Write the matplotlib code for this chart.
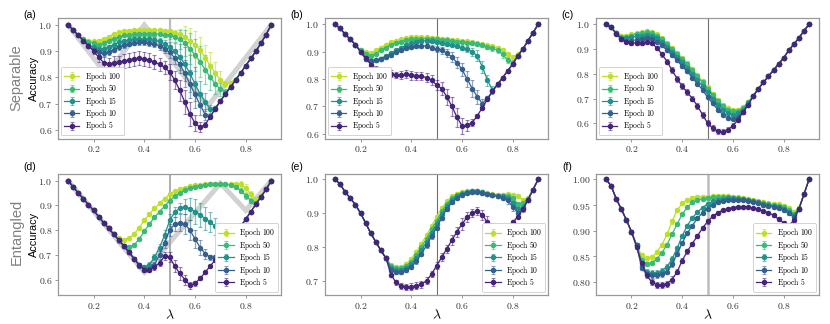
import numpy as np
import matplotlib
matplotlib.use('Agg')
import matplotlib.pyplot as plt
from matplotlib.ticker import FuncFormatter, MultipleLocator

plt.rcParams['mathtext.fontset'] = 'cm'
plt.rcParams['font.family'] = ['Liberation Sans', 'DejaVu Sans']

lam = np.round(np.arange(0.10, 0.9001, 0.02), 2)
epochs = ['Epoch 100', 'Epoch 50', 'Epoch 15', 'Epoch 10', 'Epoch 5']
colors = ['#bddf26', '#3aba76', '#21918c', '#35608d', '#46247a']

# ---------------- (a) Separable ----------------
a_100 = [1.0,0.98,0.96,0.945,0.94, 0.938,0.94,0.945,0.955,0.965, 0.972,0.976,0.978,0.979,0.98, 0.98,0.98,0.98,0.98,0.978,
         0.975,0.97,0.965,0.955,0.94, 0.925,0.905,0.875,0.845,0.815, 0.79,0.775,0.78,0.795,0.817, 0.845,0.872,0.90,0.93,0.963, 1.0]
a_50 = [1.0,0.98,0.96,0.945,0.935, 0.93,0.925,0.93,0.94,0.948, 0.955,0.96,0.962,0.964,0.965, 0.965,0.965,0.965,0.965,0.963,
        0.96,0.955,0.945,0.93,0.91, 0.885,0.86,0.83,0.80,0.775, 0.755,0.745,0.763,0.79,0.817, 0.845,0.872,0.90,0.93,0.963, 1.0]
a_15 = [1.0,0.98,0.96,0.94,0.925, 0.915,0.91,0.91,0.915,0.925, 0.933,0.938,0.942,0.945,0.946, 0.946,0.945,0.942,0.937,0.928,
        0.915,0.90,0.878,0.85,0.815, 0.775,0.737,0.706,0.68,0.685, 0.71,0.737,0.763,0.79,0.817, 0.845,0.872,0.90,0.93,0.963, 1.0]
a_10 = [1.0,0.98,0.96,0.94,0.92, 0.905,0.895,0.893,0.897,0.905, 0.915,0.922,0.928,0.932,0.934, 0.934,0.932,0.928,0.92,0.91,
        0.895,0.875,0.85,0.815,0.775, 0.735,0.695,0.658,0.652,0.68, 0.71,0.737,0.763,0.79,0.817, 0.845,0.872,0.90,0.93,0.963, 1.0]
a_5 = [1.0,0.98,0.96,0.94,0.92, 0.90,0.877,0.856,0.852,0.855, 0.858,0.862,0.867,0.871,0.873, 0.87,0.865,0.858,0.85,0.838,
       0.82,0.79,0.75,0.705,0.66, 0.625,0.61,0.62,0.65,0.68, 0.71,0.737,0.763,0.79,0.817, 0.845,0.872,0.90,0.93,0.963, 1.0]
a_err100 = [0,0.003,0.003,0.004,0.005, 0.005,0.005,0.005,0.005,0.005, 0.005,0.005,0.005,0.005,0.005, 0.005,0.005,0.005,0.005,0.005,
            0.008,0.012,0.02,0.04,0.05, 0.05,0.05,0.05,0.05,0.045, 0.035,0.01,0.005,0.004,0.003, 0.003,0.003,0.003,0.003,0.003, 0]
a_err50 = [0,0.003,0.003,0.004,0.006, 0.007,0.007,0.007,0.007,0.007, 0.007,0.007,0.007,0.007,0.007, 0.007,0.007,0.007,0.008,0.01,
           0.012,0.02,0.035,0.05,0.06, 0.06,0.06,0.055,0.05,0.04, 0.025,0.01,0.005,0.004,0.003, 0.003,0.003,0.003,0.003,0.003, 0]
a_err15 = [0,0.003,0.003,0.004,0.006, 0.008,0.01,0.01,0.01,0.01, 0.01,0.01,0.01,0.01,0.01, 0.01,0.01,0.012,0.013,0.015,
           0.02,0.03,0.05,0.065,0.07, 0.065,0.05,0.035,0.015,0.006, 0.004,0.003,0.003,0.003,0.003, 0.003,0.003,0.003,0.003,0.003, 0]
a_err10 = [0,0.003,0.003,0.004,0.006, 0.008,0.01,0.01,0.01,0.01, 0.01,0.01,0.01,0.01,0.01, 0.01,0.012,0.013,0.015,0.017,
           0.02,0.025,0.035,0.05,0.055, 0.05,0.04,0.02,0.008,0.004, 0.003,0.003,0.003,0.003,0.003, 0.003,0.003,0.003,0.003,0.003, 0]
a_err5 = [0,0.003,0.003,0.005,0.008, 0.012,0.018,0.02,0.022,0.025, 0.025,0.027,0.027,0.027,0.027, 0.027,0.027,0.027,0.025,0.025,
          0.03,0.035,0.04,0.045,0.045, 0.03,0.02,0.01,0.006,0.004, 0.003,0.003,0.003,0.003,0.003, 0.003,0.003,0.003,0.003,0.003, 0]
a_ref_x = [0.10, 0.25, 0.40, 0.65, 0.90]
a_ref_y = [1.00, 0.81, 1.00, 0.69, 1.00]

# ---------------- (b) Separable ----------------
b_100 = [1.0,0.985,0.963,0.945,0.925, 0.905,0.897,0.895,0.905,0.915, 0.925,0.935,0.94,0.945,0.95, 0.953,0.953,0.953,0.952,0.951,
         0.95,0.948,0.946,0.944,0.942, 0.94,0.938,0.935,0.932,0.928, 0.924,0.92,0.914,0.905,0.892, 0.88,0.89,0.91,0.94,0.97, 1.0]
b_50 = [1.0,0.985,0.963,0.945,0.925, 0.905,0.89,0.885,0.893,0.905, 0.915,0.925,0.932,0.937,0.942, 0.945,0.947,0.948,0.948,0.947,
        0.946,0.944,0.942,0.94,0.937, 0.935,0.932,0.93,0.927,0.923, 0.918,0.912,0.905,0.89,0.87, 0.86,0.885,0.91,0.94,0.97, 1.0]
b_15 = [1.0,0.985,0.963,0.945,0.925, 0.90,0.872,0.865,0.868,0.875, 0.885,0.895,0.905,0.915,0.925, 0.932,0.937,0.94,0.94,0.938,
        0.935,0.932,0.928,0.925,0.92, 0.915,0.91,0.90,0.885,0.845, 0.795,0.76,0.78,0.805,0.83, 0.855,0.885,0.91,0.94,0.97, 1.0]
b_10 = [1.0,0.985,0.963,0.945,0.925, 0.90,0.875,0.865,0.868,0.873, 0.88,0.888,0.897,0.905,0.912, 0.918,0.922,0.922,0.92,0.915,
        0.91,0.905,0.895,0.88,0.86, 0.835,0.80,0.765,0.735,0.71, 0.73,0.755,0.78,0.805,0.83, 0.855,0.885,0.91,0.94,0.97, 1.0]
b_5 = [1.0,0.985,0.963,0.945,0.925, 0.90,0.877,0.853,0.837,0.83, 0.825,0.82,0.815,0.815,0.817, 0.813,0.81,0.81,0.805,0.795,
       0.778,0.765,0.735,0.70,0.66, 0.628,0.63,0.64,0.665,0.695, 0.725,0.755,0.78,0.805,0.83, 0.855,0.885,0.91,0.94,0.97, 1.0]
b_err100 = [0,0.003,0.003,0.003,0.004, 0.005,0.006,0.006,0.005,0.005, 0.004,0.004,0.004,0.004,0.004, 0.004,0.004,0.004,0.004,0.004,
            0.004,0.004,0.004,0.004,0.004, 0.004,0.004,0.004,0.004,0.005, 0.005,0.005,0.006,0.007,0.008, 0.008,0.005,0.004,0.003,0.003, 0]
b_err50 = [0,0.003,0.003,0.003,0.004, 0.005,0.006,0.006,0.005,0.005, 0.005,0.005,0.005,0.005,0.005, 0.005,0.005,0.005,0.005,0.005,
           0.005,0.005,0.005,0.005,0.005, 0.005,0.005,0.005,0.006,0.006, 0.007,0.008,0.01,0.012,0.012, 0.01,0.006,0.004,0.003,0.003, 0]
b_err15 = [0,0.003,0.003,0.003,0.004, 0.005,0.007,0.007,0.006,0.006, 0.006,0.006,0.006,0.006,0.006, 0.006,0.006,0.006,0.006,0.006,
           0.006,0.006,0.006,0.006,0.007, 0.008,0.01,0.015,0.02,0.022, 0.02,0.015,0.008,0.005,0.004, 0.004,0.003,0.003,0.003,0.003, 0]
b_err10 = [0,0.003,0.003,0.003,0.004, 0.005,0.008,0.008,0.007,0.007, 0.007,0.007,0.007,0.007,0.007, 0.007,0.007,0.008,0.008,0.009,
           0.01,0.012,0.015,0.018,0.02, 0.025,0.03,0.03,0.025,0.015, 0.008,0.005,0.004,0.004,0.004, 0.004,0.003,0.003,0.003,0.003, 0]
b_err5 = [0,0.003,0.003,0.003,0.004, 0.006,0.008,0.01,0.01,0.01, 0.012,0.012,0.012,0.014,0.015, 0.015,0.015,0.015,0.016,0.018,
          0.02,0.025,0.03,0.035,0.035, 0.03,0.02,0.012,0.008,0.006, 0.005,0.004,0.004,0.004,0.004, 0.004,0.003,0.003,0.003,0.003, 0]

# ---------------- (c) Separable ----------------
c_100 = [1.0,0.988,0.965,0.952,0.955, 0.96,0.965,0.97,0.972,0.97, 0.96,0.945,0.925,0.905,0.885, 0.865,0.845,0.82,0.795,0.77,
         0.745,0.72,0.695,0.675,0.66, 0.655,0.655,0.665,0.685,0.71, 0.74,0.765,0.79,0.815,0.84, 0.865,0.895,0.92,0.945,0.975, 1.0]
c_50 = [1.0,0.988,0.965,0.948,0.95, 0.955,0.962,0.966,0.968,0.965, 0.955,0.94,0.92,0.90,0.88, 0.86,0.838,0.815,0.79,0.765,
        0.74,0.715,0.69,0.67,0.655, 0.648,0.65,0.662,0.685,0.71, 0.74,0.765,0.79,0.815,0.84, 0.865,0.895,0.92,0.945,0.975, 1.0]
c_15 = [1.0,0.988,0.965,0.945,0.945, 0.95,0.952,0.955,0.957,0.955, 0.945,0.93,0.91,0.89,0.87, 0.85,0.825,0.80,0.775,0.75,
        0.725,0.70,0.675,0.655,0.64, 0.635,0.64,0.655,0.68,0.71, 0.74,0.765,0.79,0.815,0.84, 0.865,0.895,0.92,0.945,0.975, 1.0]
c_10 = [1.0,0.988,0.965,0.94,0.935, 0.935,0.938,0.942,0.945,0.942, 0.93,0.915,0.895,0.875,0.855, 0.83,0.81,0.785,0.76,0.735,
        0.705,0.68,0.655,0.635,0.62, 0.618,0.625,0.645,0.675,0.71, 0.74,0.765,0.79,0.815,0.84, 0.865,0.895,0.92,0.945,0.975, 1.0]
c_5 = [1.0,0.988,0.963,0.94,0.93, 0.925,0.925,0.926,0.928,0.925, 0.905,0.88,0.85,0.815,0.78, 0.75,0.725,0.70,0.67,0.635,
       0.60,0.58,0.567,0.565,0.573, 0.59,0.615,0.645,0.675,0.71, 0.74,0.765,0.79,0.815,0.84, 0.865,0.895,0.92,0.945,0.975, 1.0]
c_err100 = [0,0.003,0.004,0.005,0.005, 0.005,0.005,0.005,0.005,0.005, 0.006,0.006,0.006,0.006,0.006, 0.006,0.006,0.006,0.006,0.006,
            0.006,0.006,0.006,0.006,0.006, 0.006,0.006,0.006,0.005,0.004, 0.004,0.004,0.003,0.003,0.003, 0.003,0.003,0.003,0.003,0.003, 0]
c_err50 = c_err100
c_err15 = [0,0.003,0.004,0.005,0.006, 0.006,0.006,0.006,0.006,0.006, 0.007,0.007,0.007,0.007,0.007, 0.007,0.007,0.007,0.007,0.007,
           0.007,0.007,0.007,0.007,0.007, 0.007,0.007,0.006,0.005,0.004, 0.004,0.004,0.003,0.003,0.003, 0.003,0.003,0.003,0.003,0.003, 0]
c_err10 = c_err15
c_err5 = [0,0.003,0.004,0.006,0.007, 0.008,0.008,0.008,0.008,0.008, 0.009,0.01,0.011,0.012,0.012, 0.012,0.012,0.012,0.012,0.012,
          0.012,0.011,0.01,0.01,0.01, 0.01,0.009,0.008,0.006,0.005, 0.004,0.004,0.003,0.003,0.003, 0.003,0.003,0.003,0.003,0.003, 0]

# ---------------- (d) Entangled ----------------
d_100 = [1.0,0.975,0.95,0.927,0.903, 0.88,0.855,0.83,0.807,0.785, 0.767,0.762,0.768,0.785,0.81, 0.84,0.865,0.888,0.908,0.928,
         0.945,0.957,0.966,0.972,0.977, 0.981,0.984,0.986,0.987,0.988, 0.988,0.987,0.986,0.988,0.985, 0.97,0.945,0.925,0.94,0.967, 1.0]
d_50 = [1.0,0.975,0.95,0.927,0.903, 0.88,0.855,0.83,0.807,0.783, 0.757,0.737,0.733,0.74,0.765, 0.795,0.825,0.852,0.875,0.897,
        0.92,0.937,0.95,0.962,0.97, 0.976,0.98,0.984,0.986,0.987, 0.987,0.985,0.982,0.975,0.96, 0.94,0.92,0.91,0.935,0.965, 1.0]
d_15 = [1.0,0.975,0.95,0.927,0.903, 0.88,0.855,0.83,0.807,0.783, 0.76,0.735,0.71,0.685,0.66, 0.652,0.66,0.69,0.73,0.78,
        0.84,0.872,0.89,0.895,0.887, 0.875,0.862,0.847,0.832,0.815, 0.797,0.78,0.772,0.79,0.815, 0.845,0.875,0.905,0.935,0.965, 1.0]
d_10 = [1.0,0.975,0.95,0.927,0.903, 0.88,0.855,0.83,0.807,0.783, 0.76,0.735,0.71,0.685,0.655, 0.645,0.645,0.66,0.70,0.75,
        0.80,0.825,0.83,0.825,0.80, 0.765,0.73,0.705,0.69,0.69, 0.71,0.737,0.765,0.79,0.815, 0.845,0.875,0.905,0.935,0.965, 1.0]
d_5 = [1.0,0.975,0.95,0.927,0.903, 0.88,0.855,0.83,0.807,0.783, 0.76,0.735,0.71,0.685,0.66, 0.64,0.64,0.65,0.668,0.695,
       0.69,0.655,0.625,0.60,0.577, 0.585,0.605,0.63,0.655,0.68, 0.71,0.737,0.765,0.79,0.815, 0.845,0.875,0.905,0.935,0.965, 1.0]
d_err100 = [0,0.003,0.003,0.003,0.003, 0.003,0.003,0.003,0.004,0.005, 0.006,0.006,0.006,0.006,0.006, 0.006,0.006,0.006,0.005,0.005,
            0.005,0.004,0.004,0.004,0.004, 0.004,0.004,0.004,0.004,0.004, 0.004,0.004,0.005,0.008,0.012, 0.015,0.012,0.01,0.006,0.004, 0]
d_err50 = [0,0.003,0.003,0.003,0.003, 0.003,0.003,0.003,0.004,0.005, 0.006,0.007,0.007,0.007,0.007, 0.007,0.007,0.007,0.006,0.006,
           0.006,0.005,0.005,0.005,0.005, 0.005,0.005,0.005,0.005,0.005, 0.005,0.005,0.006,0.008,0.01, 0.012,0.012,0.01,0.006,0.004, 0]
d_err15 = [0,0.003,0.003,0.003,0.003, 0.003,0.003,0.003,0.004,0.004, 0.004,0.005,0.005,0.006,0.007, 0.008,0.01,0.012,0.015,0.02,
           0.025,0.02,0.02,0.03,0.045, 0.05,0.05,0.045,0.04,0.035, 0.03,0.02,0.012,0.006,0.004, 0.004,0.004,0.003,0.003,0.003, 0]
d_err10 = [0,0.003,0.003,0.003,0.003, 0.003,0.003,0.003,0.004,0.004, 0.004,0.005,0.005,0.006,0.007, 0.008,0.008,0.01,0.015,0.02,
           0.025,0.03,0.035,0.04,0.04, 0.035,0.03,0.02,0.01,0.008, 0.005,0.004,0.004,0.004,0.004, 0.004,0.004,0.003,0.003,0.003, 0]
d_err5 = [0,0.003,0.003,0.003,0.003, 0.003,0.003,0.003,0.004,0.004, 0.004,0.005,0.005,0.006,0.007, 0.008,0.008,0.01,0.012,0.015,
          0.02,0.025,0.025,0.02,0.015, 0.01,0.008,0.006,0.005,0.005, 0.004,0.004,0.004,0.004,0.004, 0.004,0.004,0.003,0.003,0.003, 0]
d_ref_x = [0.10, 0.40, 0.70, 0.80, 0.90]
d_ref_y = [1.00, 0.63, 0.99, 0.88, 1.00]

# ---------------- (e) Entangled ----------------
e_100 = [1.0,0.985,0.962,0.944,0.925, 0.90,0.871,0.841,0.815,0.79, 0.767,0.748,0.742,0.742,0.75, 0.765,0.785,0.81,0.835,0.862,
         0.89,0.915,0.935,0.95,0.958, 0.963,0.966,0.967,0.966,0.963, 0.96,0.957,0.955,0.955,0.956, 0.955,0.95,0.94,0.945,0.97, 1.0]
e_50 = [1.0,0.985,0.962,0.944,0.925, 0.90,0.871,0.841,0.815,0.79, 0.767,0.743,0.737,0.737,0.745, 0.757,0.777,0.80,0.825,0.852,
        0.878,0.905,0.927,0.945,0.955, 0.96,0.964,0.966,0.965,0.962, 0.958,0.955,0.952,0.952,0.952, 0.945,0.928,0.93,0.942,0.97, 1.0]
e_15 = [1.0,0.985,0.962,0.944,0.925, 0.90,0.871,0.841,0.815,0.79, 0.767,0.738,0.732,0.732,0.738, 0.75,0.768,0.79,0.815,0.842,
        0.868,0.897,0.92,0.94,0.95, 0.958,0.962,0.965,0.965,0.962, 0.958,0.955,0.952,0.95,0.945, 0.93,0.912,0.918,0.94,0.97, 1.0]
e_10 = [1.0,0.985,0.962,0.944,0.925, 0.90,0.871,0.841,0.815,0.79, 0.767,0.733,0.727,0.727,0.732, 0.742,0.758,0.78,0.805,0.832,
        0.857,0.887,0.912,0.932,0.945, 0.955,0.96,0.963,0.963,0.96, 0.956,0.953,0.95,0.946,0.938, 0.918,0.902,0.912,0.938,0.97, 1.0]
e_5 = [1.0,0.985,0.962,0.944,0.925, 0.90,0.871,0.841,0.815,0.79, 0.767,0.718,0.695,0.685,0.683, 0.683,0.685,0.69,0.70,0.72,
       0.745,0.77,0.795,0.82,0.845, 0.868,0.888,0.90,0.907,0.895, 0.873,0.848,0.83,0.83,0.845, 0.873,0.89,0.912,0.94,0.97, 1.0]
e_err100 = [0,0.003,0.003,0.003,0.003, 0.003,0.003,0.003,0.004,0.004, 0.005,0.005,0.005,0.005,0.005, 0.005,0.005,0.005,0.005,0.005,
            0.005,0.005,0.004,0.004,0.004, 0.004,0.004,0.004,0.004,0.004, 0.004,0.004,0.004,0.004,0.005, 0.006,0.006,0.005,0.004,0.003, 0]
e_err50 = e_err100
e_err15 = [0,0.003,0.003,0.003,0.003, 0.003,0.003,0.003,0.004,0.004, 0.005,0.006,0.006,0.006,0.006, 0.006,0.006,0.006,0.006,0.006,
           0.006,0.006,0.005,0.005,0.005, 0.005,0.005,0.005,0.005,0.005, 0.005,0.005,0.005,0.005,0.006, 0.008,0.008,0.006,0.004,0.003, 0]
e_err10 = [0,0.003,0.003,0.003,0.003, 0.003,0.003,0.003,0.004,0.004, 0.005,0.007,0.007,0.007,0.007, 0.007,0.007,0.007,0.007,0.007,
           0.007,0.007,0.006,0.006,0.006, 0.006,0.005,0.005,0.005,0.005, 0.005,0.005,0.006,0.008,0.01, 0.012,0.01,0.008,0.005,0.003, 0]
e_err5 = [0,0.003,0.003,0.003,0.003, 0.003,0.003,0.003,0.004,0.005, 0.006,0.008,0.008,0.008,0.009, 0.01,0.01,0.01,0.01,0.01,
          0.01,0.012,0.012,0.015,0.015, 0.018,0.015,0.012,0.012,0.015, 0.02,0.022,0.018,0.012,0.008, 0.006,0.005,0.005,0.004,0.003, 0]

# ---------------- (f) Entangled ----------------
f_100 = [1.0,0.987,0.962,0.942,0.921, 0.898,0.872,0.852,0.846,0.848, 0.858,0.873,0.893,0.918,0.94, 0.953,0.96,0.964,0.966,0.966,
         0.966,0.967,0.968,0.968,0.967, 0.966,0.965,0.964,0.962,0.96, 0.958,0.956,0.953,0.952,0.951, 0.949,0.944,0.936,0.945,0.971, 1.0]
f_50 = [1.0,0.987,0.962,0.942,0.921, 0.898,0.872,0.843,0.836,0.837, 0.845,0.857,0.873,0.893,0.913, 0.932,0.946,0.955,0.96,0.962,
        0.963,0.965,0.966,0.966,0.965, 0.964,0.963,0.962,0.96,0.958, 0.956,0.953,0.951,0.95,0.948, 0.946,0.94,0.932,0.943,0.971, 1.0]
f_15 = [1.0,0.987,0.962,0.942,0.921, 0.898,0.872,0.832,0.82,0.818, 0.818,0.822,0.83,0.845,0.866, 0.89,0.91,0.925,0.936,0.945,
        0.952,0.957,0.96,0.962,0.963, 0.963,0.962,0.961,0.96,0.958, 0.955,0.952,0.95,0.948,0.946, 0.943,0.937,0.93,0.943,0.971, 1.0]
f_10 = [1.0,0.987,0.962,0.942,0.921, 0.898,0.872,0.828,0.815,0.814, 0.814,0.815,0.82,0.835,0.855, 0.876,0.895,0.91,0.924,0.935,
        0.943,0.95,0.955,0.958,0.96, 0.96,0.96,0.96,0.958,0.956, 0.953,0.95,0.948,0.946,0.944, 0.94,0.934,0.926,0.942,0.971, 1.0]
f_5 = [1.0,0.987,0.962,0.942,0.921, 0.898,0.868,0.838,0.813,0.80, 0.795,0.795,0.797,0.805,0.82, 0.842,0.86,0.875,0.89,0.905,
       0.918,0.928,0.935,0.94,0.943, 0.945,0.946,0.946,0.946,0.944, 0.942,0.938,0.935,0.93,0.922, 0.915,0.91,0.92,0.942,0.971, 1.0]
f_err100 = [0,0.002,0.002,0.002,0.002, 0.003,0.003,0.004,0.004,0.004, 0.004,0.004,0.004,0.004,0.004, 0.003,0.003,0.003,0.003,0.003,
            0.003,0.003,0.003,0.003,0.003, 0.003,0.003,0.003,0.003,0.003, 0.003,0.003,0.003,0.003,0.003, 0.003,0.003,0.004,0.003,0.002, 0]
f_err50 = f_err100
f_err15 = [0,0.002,0.002,0.002,0.002, 0.003,0.004,0.005,0.005,0.005, 0.005,0.005,0.005,0.005,0.005, 0.004,0.004,0.004,0.003,0.003,
           0.003,0.003,0.003,0.003,0.003, 0.003,0.003,0.003,0.003,0.003, 0.003,0.003,0.003,0.003,0.003, 0.003,0.003,0.004,0.003,0.002, 0]
f_err10 = f_err15
f_err5 = [0,0.002,0.002,0.002,0.002, 0.003,0.004,0.005,0.005,0.006, 0.006,0.006,0.006,0.006,0.005, 0.005,0.005,0.004,0.004,0.004,
          0.004,0.003,0.003,0.003,0.003, 0.003,0.003,0.003,0.003,0.003, 0.003,0.003,0.003,0.003,0.004, 0.004,0.004,0.004,0.003,0.002, 0]

panels = [
    dict(tag='(a)', series=[a_100, a_50, a_15, a_10, a_5], errs=[a_err100, a_err50, a_err15, a_err10, a_err5],
         ylim=(0.567, 1.027), ystep=0.1, fmt='%.1f', ref=(a_ref_x, a_ref_y), vline=('#bdbdbd', 1.6), loc='lower left'),
    dict(tag='(b)', series=[b_100, b_50, b_15, b_10, b_5], errs=[b_err100, b_err50, b_err15, b_err10, b_err5],
         ylim=(0.582, 1.024), ystep=0.1, fmt='%.1f', ref=None, vline=('#707070', 0.8), loc='lower left'),
    dict(tag='(c)', series=[c_100, c_50, c_15, c_10, c_5], errs=[c_err100, c_err50, c_err15, c_err10, c_err5],
         ylim=(0.538, 1.027), ystep=0.1, fmt='%.1f', ref=None, vline=('#707070', 0.8), loc='lower left'),
    dict(tag='(d)', series=[d_100, d_50, d_15, d_10, d_5], errs=[d_err100, d_err50, d_err15, d_err10, d_err5],
         ylim=(0.538, 1.026), ystep=0.1, fmt='%.1f', ref=(d_ref_x, d_ref_y), vline=('#a0a0a0', 1.2), loc='lower right'),
    dict(tag='(e)', series=[e_100, e_50, e_15, e_10, e_5], errs=[e_err100, e_err50, e_err15, e_err10, e_err5],
         ylim=(0.658, 1.015), ystep=0.1, fmt='%.1f', ref=None, vline=('#707070', 0.8), loc='lower right'),
    dict(tag='(f)', series=[f_100, f_50, f_15, f_10, f_5], errs=[f_err100, f_err50, f_err15, f_err10, f_err5],
         ylim=(0.775, 1.0097), ystep=0.05, fmt='%.2f', ref=None, vline=('#bdbdbd', 1.8), loc='lower right'),
]

fig = plt.figure(figsize=(8.30, 3.24), dpi=100)
lefts = [0.0699, 0.3916, 0.718]
bottoms = [0.5725, 0.0895]
W, H = 0.269, 0.3725

for i, p in enumerate(panels):
    r, c = divmod(i, 3)
    ax = fig.add_axes([lefts[c], bottoms[r], W, H])
    if p['ref'] is not None:
        ax.plot(p['ref'][0], p['ref'][1], color='#d2d2d2', lw=3.6, zorder=1, solid_joinstyle='miter')
    ax.axvline(0.5, color=p['vline'][0], lw=p['vline'][1], zorder=1.5)
    for lab, col, y, e in zip(epochs, colors, p['series'], p['errs']):
        eb = ax.errorbar(lam, y, yerr=e, color=col, marker='o', ms=2.9, lw=0.9,
                         elinewidth=0.9, capsize=1.6, capthick=0.8,
                         label=r'$\mathrm{%s}$' % lab.replace(' ', r'\ '), zorder=3)
        for cap in eb[1]:
            cap.set_alpha(0.55)
        for lc in eb[2]:
            lc.set_alpha(0.55)
    ax.set_xlim(0.06, 0.94)
    ax.set_ylim(*p['ylim'])
    ax.xaxis.set_major_locator(MultipleLocator(0.2))
    ax.yaxis.set_major_locator(MultipleLocator(p['ystep']))
    fmt = p['fmt']
    ax.xaxis.set_major_formatter(FuncFormatter(lambda v, pos: r'$%.1f$' % v))
    ax.yaxis.set_major_formatter(FuncFormatter(lambda v, pos, f=fmt: r'$%s$' % (f % v)))
    ax.tick_params(axis='both', labelsize=7, length=2, width=0.6, color='#888888',
                   labelcolor='#333333', pad=2)
    for s in ax.spines.values():
        s.set_color('#999999')
        s.set_linewidth(0.9)
    leg = ax.legend(loc=p['loc'], fontsize=5.5, frameon=True, fancybox=True,
                    borderpad=0.4, labelspacing=-0.08, handlelength=2.0, handletextpad=0.7,
                    borderaxespad=0.4, framealpha=1.0)
    leg.get_frame().set_edgecolor('#cccccc')
    leg.get_frame().set_linewidth(0.6)
    if c == 0:
        ax.set_ylabel('Accuracy', fontsize=7.8)
        ax.yaxis.set_label_coords(-0.108, 0.5)
        ax.yaxis.label.set_va('center')
    if r == 1:
        ax.set_xlabel(r'$\lambda$', fontsize=10)
        ax.xaxis.set_label_coords(0.5, -0.165)
        ax.xaxis.label.set_va('center')
    tag_y = 0.954 if r == 0 else 0.485
    fig.text(lefts[c] - 0.034, tag_y, p['tag'], fontsize=7.5, ha='center', va='center')

fig.text(0.020, 0.76, 'Separable', rotation=90, fontsize=10.5, color='#808080', ha='center', va='center')
fig.text(0.020, 0.285, 'Entangled', rotation=90, fontsize=10.5, color='#808080', ha='center', va='center')

fig.savefig('out.png', dpi=100)
